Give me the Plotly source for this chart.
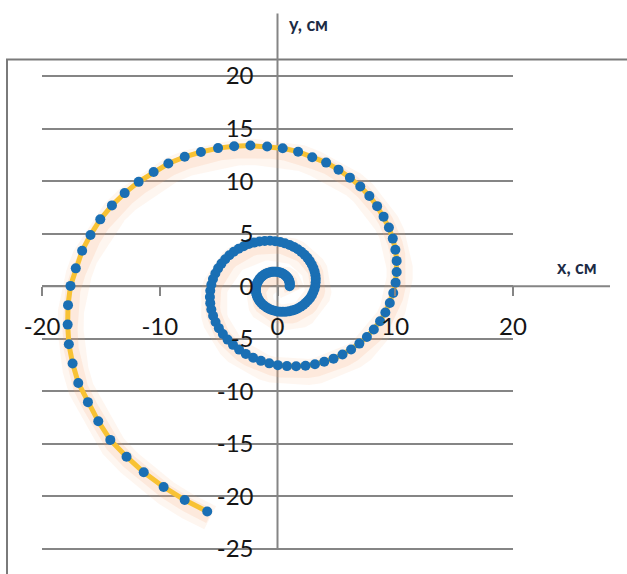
import plotly.graph_objects as go

# Spiral path, x and y in cm (one dot per sample)
x_cm = [
    1.03, 1.04, 1.04, 1.03, 1.02, 0.98, 0.94, 0.89, 0.83, 0.75,
    0.66, 0.57, 0.46, 0.35, 0.22, 0.10, -0.04, -0.18, -0.32, -0.47,
    -0.61, -0.76, -0.90, -1.04, -1.17, -1.29, -1.41, -1.51, -1.60, -1.68,
    -1.75, -1.79, -1.83, -1.84, -1.83, -1.81, -1.76, -1.70, -1.61, -1.51,
    -1.38, -1.24, -1.07, -0.89, -0.70, -0.49, -0.26, -0.03, 0.21, 0.46,
    0.72, 0.98, 1.23, 1.48, 1.73, 1.97, 2.19, 2.40, 2.59, 2.77,
    2.92, 3.04, 3.14,
    3.21, 3.24, 3.25, 3.22, 3.15, 3.05, 2.91, 2.74, 2.54, 2.30,
    2.02, 1.72, 1.38, 1.02, 0.63, 0.23, -0.20, -0.63, -1.08, -1.53,
    -1.99, -2.43, -2.87, -3.30, -3.71, -4.09, -4.44, -4.76, -5.04, -5.28,
    -5.48, -5.62, -5.71, -5.74, -5.71, -5.62, -5.47, -5.26, -4.98, -4.64,
    -4.24, -3.78, -3.26, -2.69, -2.07, -1.41, -0.70, 0.03, 0.80, 1.58,
    2.38, 3.18, 3.97, 4.76, 5.52, 6.25, 6.95, 7.59, 8.18, 8.71,
    9.16, 9.54, 9.83,
    10.03, 10.12, 10.12, 10.01, 9.79, 9.46, 9.01, 8.46, 7.80, 7.03,
    6.15, 5.18, 4.13, 2.95, 1.75, 0.44, -0.88, -2.30, -3.68, -5.05,
    -6.50, -7.88, -9.27, -10.52, -11.79, -12.98, -14.06, -15.05, -15.88, -16.59,
    -17.13, -17.58, -17.79, -17.82, -17.72, -17.40, -16.92, -16.10, -15.22, -14.20,
    -12.82, -11.36, -9.67, -7.88, -5.97,
]
y_cm = [
    0.00, 0.10, 0.21, 0.32, 0.43, 0.54, 0.65, 0.75, 0.85, 0.94,
    1.03, 1.11, 1.19, 1.25, 1.30, 1.34, 1.37, 1.38, 1.38, 1.37,
    1.34, 1.29, 1.23, 1.16, 1.07, 0.96, 0.85, 0.71, 0.57, 0.41,
    0.25, 0.07, -0.11, -0.29, -0.48, -0.68, -0.87, -1.06, -1.25, -1.43,
    -1.60, -1.76, -1.91, -2.04, -2.16, -2.26, -2.34, -2.40, -2.43, -2.44,
    -2.43, -2.39, -2.32, -2.23, -2.11, -1.96, -1.78, -1.58, -1.36, -1.12,
    -0.85, -0.56, -0.26,
    0.05, 0.38, 0.72, 1.05, 1.40, 1.73, 2.07, 2.39, 2.70, 2.99,
    3.27, 3.52, 3.74, 3.93, 4.08, 4.20, 4.28, 4.32, 4.31, 4.25,
    4.15, 4.01, 3.81, 3.57, 3.28, 2.95, 2.57, 2.15, 1.70, 1.21,
    0.69, 0.14, -0.43, -1.02, -1.61, -2.21, -2.81, -3.41, -3.99, -4.55,
    -5.08, -5.58, -6.03, -6.44, -6.80, -7.10, -7.34, -7.51, -7.60, -7.62,
    -7.56, -7.42, -7.19, -6.89, -6.49, -6.02, -5.46, -4.83, -4.12, -3.34,
    -2.50, -1.60, -0.65,
    0.34, 1.36, 2.41, 3.47, 4.53, 5.59, 6.62, 7.62, 8.59, 9.49,
    10.33, 11.09, 11.76, 12.27, 12.80, 13.12, 13.30, 13.38, 13.32, 13.14,
    12.77, 12.31, 11.67, 10.87, 9.93, 8.86, 7.69, 6.36, 4.88, 3.38,
    1.70, 0.03, -1.80, -3.65, -5.52, -7.35, -9.20, -11.03, -12.85, -14.62,
    -16.22, -17.70, -19.10, -20.34, -21.43,
]

x_ticks = [-20, -10, 0, 10, 20]
y_ticks = [-25, -20, -15, -10, -5, 0, 5, 10, 15, 20]
x_range = [-20, 20]
y_range = [-25, 20]

x_title = "x, см"
y_title = "y, см"

W, H = 627, 574
ML, MR, MT, MB = 42, 114, 76, 14
plot_w = W - ML - MR
plot_h = H - MT - MB

# paper positions of the axes crossing point (x = 0, y = 0)
x0_paper = (0 - x_range[0]) / (x_range[1] - x_range[0])
y0_paper = (0 - y_range[0]) / (y_range[1] - y_range[0])

axis_grey = "#858585"
tick_font = dict(family="Lato, Carlito, Calibri, sans-serif", size=24, color="#151515")

fig = go.Figure()

# soft peach shadow under the curve
fig.add_trace(go.Scatter(
    x=[v + 0.25 for v in x_cm], y=[v - 0.6 for v in y_cm],
    mode="lines", line=dict(color="rgba(246,178,130,0.12)", width=26),
    hoverinfo="skip", showlegend=False,
))
fig.add_trace(go.Scatter(
    x=[v + 0.2 for v in x_cm], y=[v - 0.45 for v in y_cm],
    mode="lines", line=dict(color="rgba(246,170,120,0.16)", width=15),
    hoverinfo="skip", showlegend=False,
))

# the spiral itself
fig.add_trace(go.Scatter(
    x=x_cm, y=y_cm, mode="lines+markers",
    line=dict(color="#f8c234", width=5),
    marker=dict(color="#1a6fb4", size=10),
    showlegend=False,
))

fig.update_xaxes(
    range=x_range, tickvals=x_ticks, ticktext=[str(v) for v in x_ticks],
    anchor="free", position=y0_paper,
    showgrid=False, zeroline=False, showline=False,
    ticks="outside", ticklen=9, tickwidth=2, tickcolor=axis_grey,
    tickfont=tick_font, ticklabelstandoff=10,
)
fig.update_yaxes(
    range=y_range, tickvals=y_ticks, ticktext=[str(v) for v in y_ticks],
    anchor="free", position=x0_paper,
    showgrid=True, gridcolor=axis_grey, gridwidth=2,
    zeroline=False, showline=False, ticks="",
    tickfont=tick_font, ticklabelstandoff=24,
)

shapes = [
    # outer frame (top and left edges fall inside the page)
    dict(type="rect", xref="paper", yref="paper",
         x0=(7 - ML) / plot_w, x1=1.6, y0=-0.5, y1=(H - MB - 59) / plot_h,
         line=dict(color="#7a7a7a", width=2), fillcolor="rgba(0,0,0,0)", layer="below"),
    # gridlines at both ends of the y range
    dict(type="line", xref="paper", yref="paper", x0=0, x1=1, y0=0, y1=0,
         line=dict(color=axis_grey, width=2), layer="below"),
    dict(type="line", xref="paper", yref="paper", x0=0, x1=1, y0=1, y1=1,
         line=dict(color=axis_grey, width=2), layer="below"),
    # horizontal axis, drawn past the last tick
    dict(type="line", xref="paper", yref="paper",
         x0=0, x1=(610 - ML) / plot_w, y0=y0_paper, y1=y0_paper,
         line=dict(color=axis_grey, width=2), layer="below"),
    # vertical axis, drawn above the top gridline
    dict(type="line", xref="paper", yref="paper",
         x0=x0_paper, x1=x0_paper, y0=0, y1=(H - MB - 12) / plot_h,
         line=dict(color=axis_grey, width=2), layer="below"),
]

title_font = dict(family="Lato, Carlito, Calibri, sans-serif", size=18, color="#1c2b45")
annotations = [
    dict(text="<b>" + y_title + "</b>", xref="paper", yref="paper",
         x=(287 - ML) / plot_w, y=(H - MB - 23) / plot_h,
         xanchor="left", yanchor="middle", showarrow=False, font=title_font),
    dict(text="<b>" + x_title + "</b>", xref="paper", yref="paper",
         x=(555 - ML) / plot_w, y=(H - MB - 271) / plot_h,
         xanchor="left", yanchor="middle", showarrow=False, font=title_font),
]

fig.update_layout(
    width=W, height=H,
    margin=dict(l=ML, r=MR, t=MT, b=MB, pad=0),
    paper_bgcolor="white", plot_bgcolor="white",
    shapes=shapes, annotations=annotations,
    showlegend=False,
)

fig.write_html("out.html", config={"displayModeBar": False})
